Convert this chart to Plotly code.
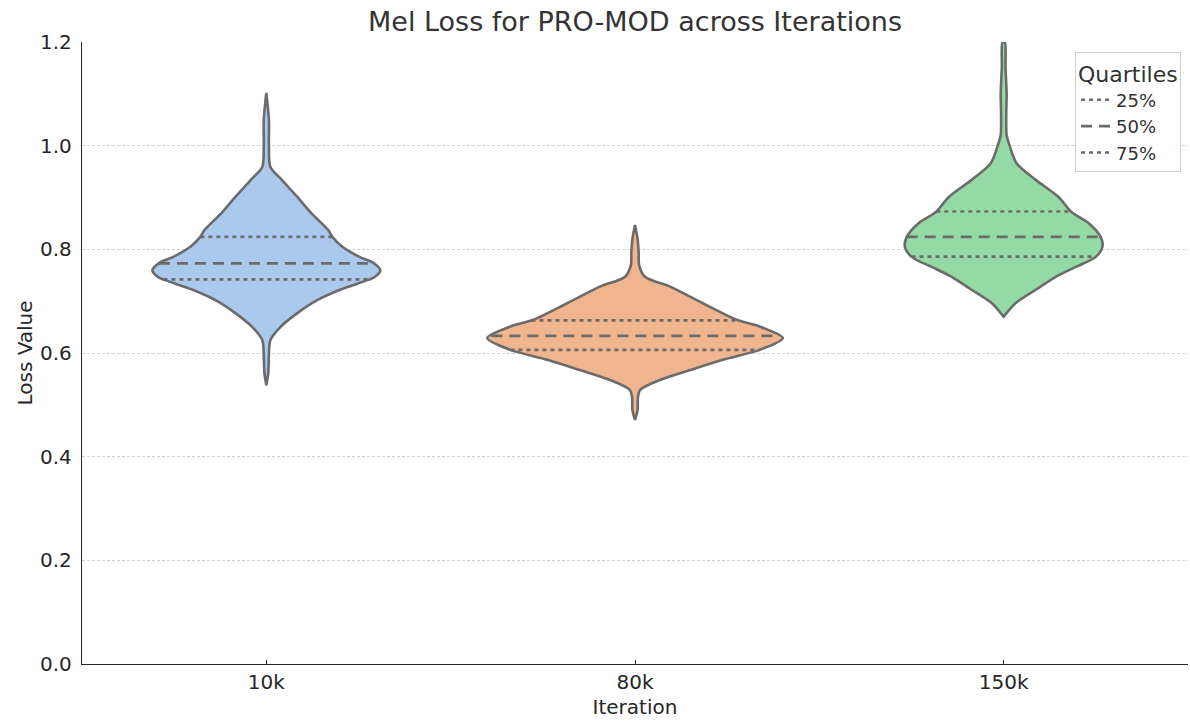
import numpy as np
import plotly.graph_objects as go

# Iteration checkpoints shown on the x axis
iterations = ["10k", "80k", "150k"]

# Density profiles of the mel loss per checkpoint: loss levels and the
# half-width of the violin at each level (in category units)
levels_10k = [0.538, 0.560, 0.612, 0.625, 0.650, 0.677, 0.702, 0.722, 0.741, 0.747,
              0.760, 0.774, 0.785, 0.805, 0.824, 0.837, 0.870, 0.901, 0.934, 0.959,
              1.000, 1.050, 1.102]
width_10k = [0.000, 0.005, 0.008, 0.011, 0.038, 0.084, 0.138, 0.200, 0.276, 0.295,
             0.309, 0.290, 0.254, 0.206, 0.179, 0.168, 0.122, 0.084, 0.042, 0.011,
             0.007, 0.007, 0.000]

levels_80k = [0.471, 0.490, 0.515, 0.529, 0.548, 0.567, 0.587, 0.606, 0.629, 0.651,
              0.664, 0.696, 0.728, 0.747, 0.770, 0.793, 0.820, 0.847]
width_80k = [0.000, 0.007, 0.008, 0.014, 0.068, 0.149, 0.238, 0.338, 0.401, 0.338,
             0.276, 0.184, 0.095, 0.027, 0.011, 0.010, 0.007, 0.000]

levels_150k = [0.670, 0.696, 0.722, 0.747, 0.766, 0.785, 0.805, 0.824, 0.851, 0.872,
               0.901, 0.934, 0.966, 1.005, 1.020, 1.060, 1.100, 1.150, 1.200]
width_150k = [0.000, 0.032, 0.087, 0.141, 0.195, 0.249, 0.268, 0.263, 0.230, 0.184,
              0.149, 0.087, 0.035, 0.014, 0.008, 0.007, 0.008, 0.005, 0.003]

# Quartiles (25%, 50%, 75%) of each checkpoint
q25 = [0.742, 0.606, 0.786]
q50 = [0.773, 0.633, 0.824]
q75 = [0.824, 0.663, 0.873]

fill_colors = ["#abc9ed", "#f0b58e", "#93daa5"]
edge_color = "#6b6b6b"
text_color = "#262626"
line_w = 2.6
dot_dash = "4px,4px"
long_dash = "11px,7px"

profiles = [(levels_10k, width_10k), (levels_80k, width_80k), (levels_150k, width_150k)]

fig = go.Figure()

for i, (lv, wd) in enumerate(profiles):
    lv = np.asarray(lv)
    wd = np.asarray(wd)
    xs = np.concatenate([i + wd, (i - wd)[::-1]])
    ys = np.concatenate([lv, lv[::-1]])
    xs = np.append(xs, xs[0])
    ys = np.append(ys, ys[0])
    fig.add_trace(go.Scatter(
        x=xs, y=ys, mode="lines", fill="toself",
        fillcolor=fill_colors[i],
        line=dict(color=edge_color, width=line_w, shape="spline", smoothing=0.8),
        showlegend=False, hoverinfo="skip",
    ))
    # quartile lines span the violin width at their level
    for q, dash in ((q25[i], dot_dash), (q50[i], long_dash), (q75[i], dot_dash)):
        hw = float(np.interp(q, lv, wd))
        fig.add_trace(go.Scatter(
            x=[i - hw, i + hw], y=[q, q], mode="lines",
            line=dict(color=edge_color, width=line_w, dash=dash),
            showlegend=False, hoverinfo="skip",
        ))

# legend entries for the quartile line styles
for name, dash in (("25%", dot_dash), ("50%", long_dash), ("75%", dot_dash)):
    fig.add_trace(go.Scatter(
        x=[None], y=[None], mode="lines", name=name,
        line=dict(color=edge_color, width=line_w, dash=dash),
    ))

fig.update_layout(
    width=1190, height=722,
    margin=dict(l=82, r=2, t=42, b=58),
    paper_bgcolor="white", plot_bgcolor="white",
    font=dict(family="DejaVu Sans", color=text_color),
    title=dict(text="Mel Loss for PRO-MOD across Iterations",
               x=0.5, xref="paper", xanchor="center",
               y=1 - 22 / 722, yref="container", yanchor="middle",
               font=dict(size=27, color="#333333")),
    legend=dict(
        title=dict(text="Quartiles", font=dict(size=22, color="#333333"), side="top"),
        x=0.9937, xanchor="right", y=0.984, yanchor="top",
        bgcolor="rgba(255,255,255,0.85)", bordercolor="#d0d0d0", borderwidth=1,
        font=dict(size=18, color="#333333"),
        tracegroupgap=0, itemwidth=30,
    ),
    showlegend=True,
)

fig.update_xaxes(
    range=[-0.5, 2.5], tickvals=[0, 1, 2], ticktext=iterations,
    showgrid=False, zeroline=False,
    showline=True, linecolor=text_color, linewidth=1.3,
    ticks="inside", ticklen=4, tickcolor=text_color,
    tickfont=dict(size=20, color=text_color),
    title=dict(text="Iteration", font=dict(size=20, color=text_color), standoff=6),
)
fig.update_yaxes(
    range=[0, 1.2], tickvals=[0, 0.2, 0.4, 0.6, 0.8, 1.0, 1.2],
    tickformat=".1f",
    showgrid=True, gridcolor="#d0d0d0", gridwidth=0.8, griddash="3px,2px",
    zeroline=False,
    showline=True, linecolor=text_color, linewidth=1.3,
    ticks="", ticklabelstandoff=5,
    tickfont=dict(size=20, color=text_color),
    title=dict(text="Loss Value", font=dict(size=20, color=text_color), standoff=2),
)

fig.write_html("out.html")
